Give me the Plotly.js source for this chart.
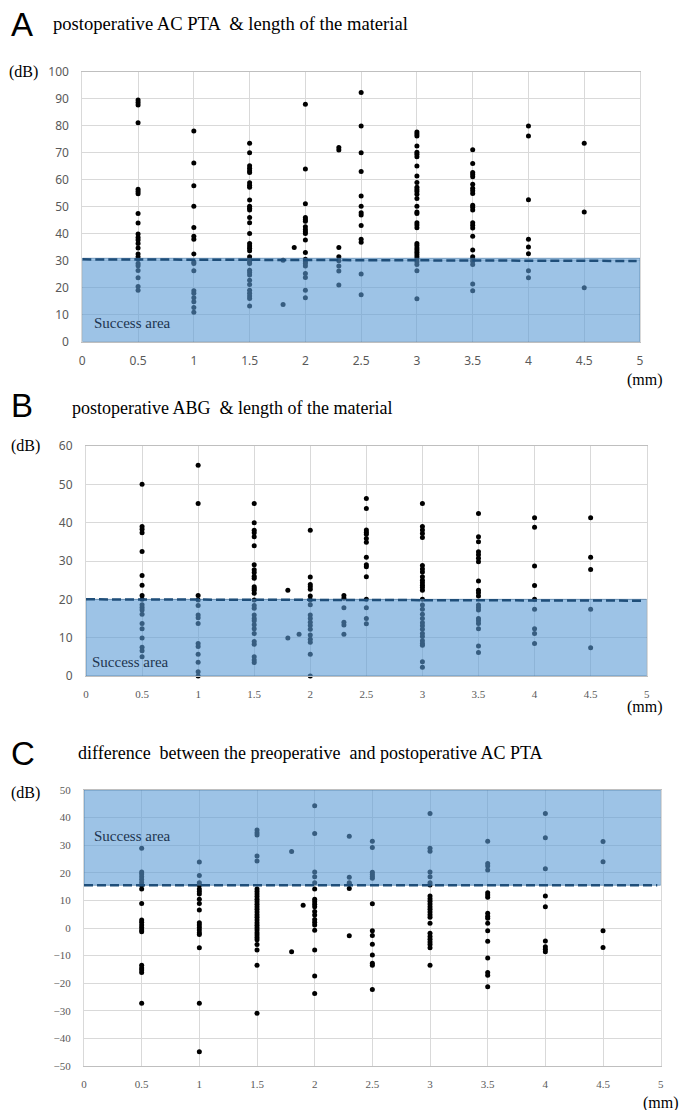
<!DOCTYPE html>
<html>
<head>
<meta charset="utf-8">
<script src="https://cdn.plot.ly/plotly-3.0.1.min.js"></script>
<style>html,body{margin:0;padding:0;background:#fff;}#chart{width:683px;height:1110px;}</style>
</head>
<body>
<div id="chart"></div>
<script>
// ---------- DATA ----------
const lengths = [0.5, 1, 1.5, 1.8, 1.9, 2, 2.3, 2.5, 3, 3.5, 4, 4.5];

// Panel A: postoperative AC PTA (dB) per length (mm)
const acPTA = [
  [89.5, 88.6, 87.7, 81.1, 56.5, 55.6, 54.8, 47.5, 44.0, 39.9, 38.6, 37.7, 36.4, 34.7, 32.5, 31.5, 30.5, 29.0, 28.1, 26.4, 23.7, 20.4, 19.1],
  [78, 66.2, 57.8, 50.2, 42.3, 39.1, 37.9, 32.5, 29.5, 29, 26.3, 18.9, 17.9, 16.3, 14.8, 12.7, 10.9],
  [73.5, 70, 65.2, 64.2, 63.3, 62.7, 58.9, 57.9, 57.2, 52.5, 50.2, 49.4, 48.8, 46, 44.1, 40.1, 36.4, 35.4, 34.6, 33.7, 31.5, 30.5, 29.6, 29, 26.5, 25.6, 24.7, 22.8, 21.2, 19.1, 17.9, 16.9, 16, 13.2],
  [30.2, 13.8],
  [34.9],
  [87.9, 64, 51.1, 46, 45.3, 44.6, 42.6, 41.6, 40.7, 40.1, 37.7, 33, 30.5, 29.6, 29, 28, 25.3, 23.8, 19.1, 16.3],
  [71.9, 71, 34.9, 31.5, 30, 28, 26.2, 21],
  [92.3, 79.9, 70, 63, 54, 50.2, 47.8, 46.9, 43, 37.9, 36.8, 25.1, 17.4],
  [77.7, 76.9, 76.2, 72.5, 70.2, 69.4, 68.5, 65.1, 61.4, 59, 57.2, 56.4, 55.6, 54.6, 53, 50.2, 48, 47.5, 44.1, 43.2, 42.2, 36.4, 35.6, 34.7, 34, 33.1, 32.3, 31.5, 30.6, 29.6, 28.6, 26.3, 15.9],
  [71.1, 66, 62.7, 61.9, 61.1, 58.3, 56.8, 55.9, 54.9, 50.5, 49.8, 48.8, 44.1, 43.1, 42.1, 39.1, 34, 31.5, 30.7, 29.8, 28.6, 21.4, 18.9],
  [79.9, 76.2, 52.6, 37.9, 35.1, 32.6, 26.3, 23.7],
  [73.5, 48, 20]
];

// Panel B: postoperative ABG (dB) per length (mm)
const abg = [
  [50, 39, 38.3, 37.4, 32.5, 26.2, 23.7, 21, 20, 18.6, 17.9, 17.2, 16.1, 13.7, 12.3, 9.9, 7.5, 6.6, 5],
  [55, 45, 21, 19.8, 18.4, 15.9, 15.2, 13.7, 8.5, 7.7, 5.7, 3.6, 1.1, 0],
  [45, 40, 38, 37.4, 36.3, 34, 29, 27.7, 27, 26, 25.5, 23.3, 22.8, 22.4, 21.6, 19.8, 18.4, 17.7, 15.9, 15, 14.4, 13.4, 12.3, 11.1, 9, 8.3, 5, 4.2, 3.5],
  [22.4, 9.9],
  [10.9],
  [38, 25.8, 23.9, 23.3, 22.6, 20.9, 19.8, 18.6, 15.9, 15, 14, 13.2, 12.2, 10.7, 9.6, 8.8, 5.7, 0],
  [21, 20.3, 17.8, 14, 13.3, 10.9],
  [46.3, 43.7, 38.1, 37.5, 37, 35.9, 34.9, 31, 29, 28.5, 25.9, 20, 17.8, 15, 13.6],
  [45, 39, 38.1, 37.2, 36.1, 28.8, 27.9, 27.1, 25.9, 25, 24.3, 23.7, 23.1, 22.4, 20, 18.5, 17.4, 16.1, 15, 13.9, 13.1, 12.2, 11.1, 10.3, 9.2, 8.5, 8, 3.7, 2.3],
  [42.4, 36.3, 35, 32.4, 31.6, 30.7, 29.8, 24.8, 22.4, 21.7, 20.9, 18.5, 17.9, 17.2, 15, 14.4, 13.7, 12.3, 7.8, 6.1],
  [41.3, 38.8, 28.7, 23.6, 20, 17.4, 12.3, 11.1, 8.5],
  [41.3, 31, 27.8, 17.4, 7.4]
];

// Panel C: difference between pre- and postoperative AC PTA (dB) per length (mm)
const diffPTA = [
  [28.9, 20.3, 19.6, 18.6, 17.6, 16.5, 15.6, 14.1, 8.9, 2.9, 2.1, 1.1, 0.2, -0.7, -1.4, -13.5, -14.5, -15.2, -16.1, -27.3],
  [23.9, 19, 16.4, 15.5, 14.1, 13.2, 12.3, 10.4, 8.9, 6.5, 1.9, 1.1, 0.2, -0.7, -1.7, -2.4, -7.2, -27.3, -44.8],
  [35.5, 34.5, 33.7, 26.1, 24.3, 14.1, 13.2, 12.3, 11.4, 10.4, 9.5, 8.6, 7.7, 6.8, 5.8, 4.8, 3.9, 2.9, 1.9, 1, 0.1, -0.7, -1.7, -2.5, -3.4, -4.3, -6, -8, -13.5, -30.9],
  [27.7, -8.6],
  [8.2],
  [44.3, 34.2, 20.3, 18.6, 16.4, 14.1, 10.4, 9.5, 8.6, 7.7, 6, 4.7, 3.1, 2.1, 1.1, -0.8, -8, -17.4, -23.7],
  [33.2, 18.4, 16.4, 15.9, 14.3, -2.8],
  [31.4, 29.2, 20.2, 19.4, 18.7, 18, 8.8, -1, -2.7, -5.9, -9.8, -12.8, -13.5, -22.3],
  [41.5, 28.9, 27.8, 20.3, 18.6, 16.4, 15.6, 11.6, 10.6, 9.7, 8.7, 7.7, 6.8, 5.8, 4.8, 3.9, 1.7, -1.9, -3.1, -4.1, -5.1, -6, -7.2, -13.5],
  [31.4, 23.4, 22.5, 21, 12.8, 12, 11.1, 5.3, 4.3, 3.5, 1.7, -1, -4.8, -10.9, -16.1, -17.1, -21.3],
  [41.5, 32.7, 21.5, 11.6, 7.7, -4.7, -6.8, -7.7, -8.6],
  [31.3, 24, -1, -7.1]
];

const xTicks = [0, 0.5, 1, 1.5, 2, 2.5, 3, 3.5, 4, 4.5, 5];
const xTickText = ['0', '0.5', '1', '1.5', '2', '2.5', '3', '3.5', '4', '4.5', '5'];

const NB = '\u00a0';
const titles = [
  'postoperative AC PTA ' + NB + '&amp; length of the material',
  'postoperative ABG ' + NB + '&amp; length of the material',
  'difference ' + NB + 'between the preoperative ' + NB + 'and postoperative AC PTA'
];
const panelLetters = ['A', 'B', 'C'];
const yUnit = '(dB)';
const xUnit = '(mm)';
const areaLabel = 'Success area';
// success thresholds per panel
const successA = [0, 30.5];
const successB = [0, 20];
const successC = [15.5, 50];

// ---------- BUILD ----------
const W = 683, H = 1110;
const px = v => v / W;
const py = v => 1 - v / H;

function flatten(vals) {
  const xs = [], ys = [];
  vals.forEach((arr, i) => arr.forEach(v => { xs.push(lengths[i]); ys.push(v); }));
  return {xs, ys};
}

const SANS = 'Noto Sans, Segoe UI, Arial, sans-serif';
const SERIF = 'Liberation Serif, Times New Roman, serif';
const tickGray = '#595959';
const grid = '#d9d9d9';

const traces = [];
[[acPTA, 'x', 'y'], [abg, 'x2', 'y2'], [diffPTA, 'x3', 'y3']].forEach(([vals, xa, ya]) => {
  const f = flatten(vals);
  traces.push({
    type: 'scatter', mode: 'markers', x: f.xs, y: f.ys, xaxis: xa, yaxis: ya,
    marker: {color: '#000', size: 5}, cliponaxis: false, hoverinfo: 'x+y'
  });
});

function xax(domain, anchor, fontFam, size, standoff) {
  return {
    domain, anchor, range: [0, 5], tickvals: xTicks, ticktext: xTickText,
    showgrid: true, gridcolor: grid, gridwidth: 1, zeroline: false,
    showline: true, linecolor: '#bfbfbf', mirror: true,
    ticks: '', tickfont: {family: fontFam, size, color: tickGray},
    ticklabelstandoff: standoff, fixedrange: true
  };
}
function yax(domain, anchor, range, dtick, fontFam, size) {
  return {
    domain, anchor, range, dtick, tick0: range[0],
    showgrid: true, gridcolor: grid, gridwidth: 1, zeroline: false,
    showline: true, linecolor: grid, mirror: true,
    ticks: '', tickfont: {family: fontFam, size, color: tickGray},
    ticklabelstandoff: 10, fixedrange: true
  };
}

const layout = {
  width: W, height: H,
  margin: {l: 0, r: 0, t: 0, b: 0},
  paper_bgcolor: '#fff', plot_bgcolor: '#fff',
  showlegend: false,
  xaxis: xax([px(82.3), px(640)], 'y', SANS, 12, 8),
  yaxis: yax([py(341.7), py(71.7)], 'x', [0, 100], 10, SANS, 12),
  xaxis2: xax([px(86), px(646.7)], 'y2', SERIF, 11, 8),
  yaxis2: yax([py(676), py(446)], 'x2', [0, 60], 10, SANS, 12),
  xaxis3: xax([px(84), px(660.7)], 'y3', SERIF, 11, 8),
  yaxis3: yax([py(1066), py(790)], 'x3', [-50, 50], 10, SERIF, 11),
  shapes: [],
  annotations: []
};

const fill = 'rgba(91,155,213,0.6)';
const edge = 'rgba(65,113,156,0.6)';
const dashCol = '#1f4e79';
[[successA, 'x', 'y', [0, -0.6], 0.4], [successB, 'x2', 'y2', [0, -0.35], 0], [successC, 'x3', 'y3', [0, 0], 0]].forEach(([s, xr, yr, tilt, pad]) => {
  layout.shapes.push({type: 'rect', xref: xr, yref: yr, x0: 0, x1: 5, y0: s[0], y1: (s[0] === 0 ? s[1] + pad : s[1]),
    fillcolor: fill, line: {color: edge, width: 1}, layer: 'above'});
  const yl = s[0] === 0 ? s[1] : s[0];
  layout.shapes.push({type: 'line', xref: xr, yref: yr, x0: 0, x1: 4.97, y0: yl + tilt[0], y1: yl + tilt[1],
    line: {color: dashCol, width: 2.5, dash: '9px,4px'}, layer: 'above'});
});

function ann(text, x, y, font, xanchor) {
  layout.annotations.push({text, xref: 'paper', yref: 'paper', x: px(x), y: py(y),
    xanchor: xanchor || 'left', yanchor: 'middle', showarrow: false, font});
}
const letterFont = {family: 'Liberation Sans, Arial, sans-serif', size: 33, color: '#000'};
const titleFont = {family: SERIF, size: 18, color: '#000'};
const titleFontA = {family: SERIF, size: 18.6, color: '#000'};
const unitFont = {family: SERIF, size: 16, color: '#000'};
const areaFont = {family: SERIF, size: 15, color: '#1d3550'};

ann(panelLetters[0], 9, 25, letterFont);
ann(titles[0], 51, 23, titleFontA);
ann(yUnit, 7, 72, unitFont);
ann(xUnit, 625, 380, unitFont);
ann(areaLabel, 92, 323, areaFont);

ann(panelLetters[1], 9, 405, letterFont);
ann(titles[1], 70, 408, titleFont);
ann(yUnit, 9, 446, unitFont);
ann(xUnit, 625, 707, unitFont);
ann(areaLabel, 90, 662, areaFont);

ann(panelLetters[2], 9, 753, letterFont);
ann(titles[2], 76, 753, titleFont);
ann(yUnit, 9, 793, unitFont);
ann(xUnit, 641, 1103, unitFont);
ann(areaLabel, 92, 836, areaFont);

Plotly.newPlot('chart', traces, layout, {staticPlot: true, displayModeBar: false});
</script>
</body>
</html>
